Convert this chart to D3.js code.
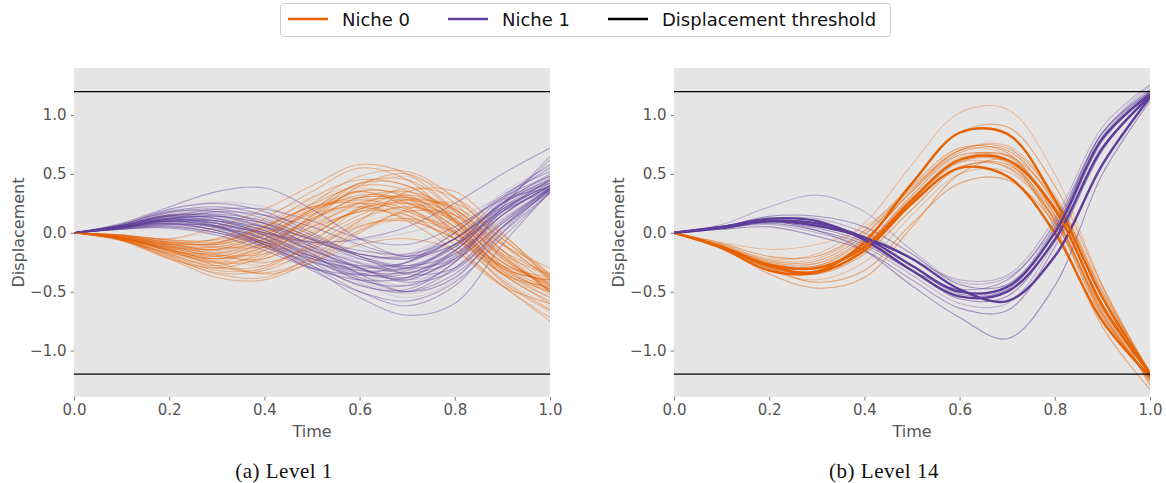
<!DOCTYPE html>
<html>
<head>
<meta charset="utf-8">
<script src="https://cdn.jsdelivr.net/npm/d3@7"></script>
<style>
  body { margin: 0; background: #fff; }
  svg { display: block; font-family: "DejaVu Sans", sans-serif; }
</style>
</head>
<body>
<script>
// time samples shared by every trajectory
const times = [0, 0.1, 0.2, 0.3, 0.4, 0.5, 0.6, 0.7, 0.8, 0.9, 1.0];

// Level 1 - niche 0 trajectories
const level1Niche0 = [
  [0,-0.04,-0.12,-0.18,-0.10,0.08,0.22,0.20,0.02,-0.28,-0.42],
  [0,-0.05,-0.15,-0.22,-0.15,0.05,0.25,0.30,0.10,-0.25,-0.45],
  [0,-0.03,-0.08,-0.10,0.00,0.18,0.32,0.28,0.05,-0.30,-0.40],
  [0,-0.06,-0.18,-0.30,-0.28,-0.10,0.12,0.22,0.10,-0.20,-0.50],
  [0,-0.04,-0.10,-0.05,0.10,0.25,0.30,0.15,-0.05,-0.35,-0.55],
  [0,-0.05,-0.14,-0.25,-0.35,-0.25,0.00,0.20,0.25,-0.05,-0.38],
  [0,-0.02,-0.06,-0.08,0.05,0.30,0.45,0.40,0.15,-0.20,-0.48],
  [0,-0.06,-0.20,-0.35,-0.38,-0.20,0.05,0.10,-0.05,-0.35,-0.60],
  [0,-0.03,-0.10,-0.12,-0.02,0.15,0.38,0.48,0.30,-0.10,-0.42],
  [0,-0.05,-0.13,-0.20,-0.22,-0.05,0.15,0.28,0.20,-0.15,-0.35],
  [0,-0.04,-0.09,-0.15,-0.05,0.20,0.35,0.22,-0.05,-0.40,-0.65],
  [0,-0.07,-0.22,-0.30,-0.20,0.02,0.18,0.15,-0.10,-0.45,-0.72],
  [0,-0.02,-0.05,0.02,0.15,0.30,0.38,0.30,0.10,-0.22,-0.45],
  [0,-0.05,-0.12,-0.18,-0.25,-0.12,0.10,0.35,0.35,0.00,-0.40],
  [0,-0.04,-0.15,-0.25,-0.18,0.10,0.40,0.50,0.25,-0.15,-0.50],
  [0,-0.03,-0.08,-0.12,-0.12,0.00,0.20,0.28,0.15,-0.18,-0.36],
  [0,-0.06,-0.16,-0.28,-0.32,-0.15,0.08,0.15,0.02,-0.30,-0.55],
  [0,-0.04,-0.10,-0.08,0.05,0.22,0.25,0.10,-0.15,-0.45,-0.60],
  [0,-0.05,-0.18,-0.28,-0.15,0.15,0.42,0.45,0.18,-0.22,-0.45],
  [0,-0.03,-0.07,-0.10,0.02,0.20,0.28,0.20,0.00,-0.32,-0.48],
  [0,-0.05,-0.12,-0.22,-0.28,-0.18,0.02,0.12,0.05,-0.25,-0.42],
  [0,-0.04,-0.14,-0.20,-0.08,0.12,0.30,0.35,0.20,-0.10,-0.38],
  [0,-0.06,-0.17,-0.22,-0.12,0.05,0.18,0.25,0.12,-0.28,-0.52],
  [0,-0.02,-0.08,-0.05,0.12,0.35,0.55,0.45,0.10,-0.30,-0.50],
  [0,-0.05,-0.12,-0.16,-0.08,0.10,0.26,0.30,0.15,-0.20,-0.44],
  [0,-0.04,-0.16,-0.26,-0.22,-0.02,0.20,0.25,0.05,-0.35,-0.58],
  [0,-0.03,-0.10,-0.14,-0.06,0.12,0.25,0.18,-0.02,-0.35,-0.46],
  [0,-0.05,-0.15,-0.18,-0.05,0.18,0.35,0.32,0.08,-0.30,-0.40],
  [0,-0.07,-0.20,-0.25,-0.10,0.12,0.28,0.25,0.00,-0.40,-0.68],
  [0,-0.04,-0.11,-0.14,-0.02,0.16,0.22,0.12,-0.05,-0.28,-0.38],
  [0,-0.06,-0.22,-0.38,-0.40,-0.25,-0.10,-0.05,-0.15,-0.45,-0.75],
  [0,-0.02,-0.05,0.05,0.20,0.40,0.58,0.50,0.20,-0.10,-0.30],
  [0,-0.05,-0.14,-0.24,-0.26,-0.12,0.10,0.22,0.12,-0.22,-0.46],
  [0,-0.03,-0.09,-0.09,0.04,0.24,0.40,0.36,0.12,-0.25,-0.43],
  [0,-0.06,-0.19,-0.32,-0.30,-0.08,0.20,0.32,0.18,-0.18,-0.50],
  [0,-0.04,-0.12,-0.14,-0.02,0.20,0.42,0.40,0.10,-0.32,-0.55],
  [0,-0.05,-0.16,-0.20,-0.10,0.08,0.20,0.18,0.00,-0.30,-0.47],
  [0,-0.02,-0.06,-0.06,0.06,0.22,0.30,0.30,0.22,-0.05,-0.36],
  [0,-0.05,-0.15,-0.28,-0.34,-0.22,0.02,0.18,0.15,-0.15,-0.44],
  [0,-0.04,-0.10,-0.12,0.00,0.25,0.48,0.52,0.30,-0.08,-0.40],
  [0,-0.06,-0.18,-0.24,-0.14,0.06,0.26,0.28,0.08,-0.38,-0.62],
  [0,-0.03,-0.11,-0.17,-0.09,0.10,0.30,0.26,0.02,-0.34,-0.50],
  [0,-0.05,-0.13,-0.19,-0.18,-0.02,0.22,0.38,0.30,-0.02,-0.35],
  [0,-0.04,-0.14,-0.22,-0.12,0.14,0.36,0.30,0.00,-0.42,-0.66],
  [0,-0.05,-0.12,-0.10,0.08,0.28,0.35,0.25,0.05,-0.25,-0.42],
  [0,-0.06,-0.21,-0.34,-0.32,-0.14,0.06,0.12,0.00,-0.28,-0.48]
];

// Level 1 - niche 1 trajectories
const level1Niche1 = [
  [0,0.05,0.10,0.08,0.00,-0.12,-0.25,-0.28,-0.10,0.20,0.38],
  [0,0.06,0.15,0.15,0.05,-0.10,-0.30,-0.40,-0.20,0.15,0.40],
  [0,0.04,0.08,0.05,-0.05,-0.20,-0.35,-0.35,-0.15,0.18,0.36],
  [0,0.08,0.22,0.35,0.38,0.20,-0.05,-0.20,-0.05,0.25,0.42],
  [0,0.05,0.12,0.10,0.02,-0.18,-0.42,-0.55,-0.40,0.05,0.35],
  [0,0.03,0.05,0.00,-0.10,-0.22,-0.30,-0.25,-0.05,0.22,0.40],
  [0,0.07,0.18,0.22,0.15,-0.02,-0.18,-0.22,-0.05,0.25,0.45],
  [0,0.05,0.10,0.05,-0.08,-0.28,-0.50,-0.62,-0.45,0.00,0.38],
  [0,0.04,0.06,0.03,-0.02,-0.08,-0.06,0.00,0.12,0.30,0.42],
  [0,0.06,0.14,0.12,0.02,-0.15,-0.28,-0.30,-0.12,0.28,0.55],
  [0,0.05,0.12,0.18,0.15,0.05,-0.10,-0.20,-0.10,0.18,0.38],
  [0,0.04,0.08,0.02,-0.12,-0.30,-0.40,-0.38,-0.15,0.20,0.40],
  [0,0.06,0.16,0.16,0.05,-0.15,-0.35,-0.45,-0.30,0.10,0.36],
  [0,0.03,0.04,-0.02,-0.15,-0.30,-0.35,-0.25,0.00,0.30,0.48],
  [0,0.07,0.20,0.25,0.18,0.00,-0.20,-0.35,-0.30,0.05,0.35],
  [0,0.05,0.10,0.10,0.05,-0.05,-0.15,-0.18,-0.05,0.25,0.62],
  [0,0.04,0.09,0.06,-0.04,-0.18,-0.30,-0.40,-0.30,0.05,0.40],
  [0,0.06,0.12,0.08,-0.05,-0.25,-0.45,-0.48,-0.25,0.15,0.40],
  [0,0.05,0.14,0.20,0.20,0.10,-0.05,-0.10,0.05,0.28,0.38],
  [0,0.04,0.06,0.00,-0.12,-0.25,-0.32,-0.30,-0.10,0.25,0.50],
  [0,0.06,0.16,0.18,0.10,-0.08,-0.25,-0.32,-0.20,0.12,0.36],
  [0,0.05,0.11,0.08,-0.02,-0.20,-0.38,-0.50,-0.35,0.00,0.34],
  [0,0.03,0.07,0.06,0.00,-0.08,-0.18,-0.22,-0.10,0.20,0.44],
  [0,0.06,0.15,0.12,-0.02,-0.22,-0.40,-0.45,-0.25,0.22,0.65],
  [0,0.05,0.10,0.04,-0.10,-0.25,-0.38,-0.40,-0.22,0.12,0.38],
  [0,0.04,0.12,0.14,0.08,-0.06,-0.20,-0.28,-0.18,0.15,0.40],
  [0,0.06,0.13,0.10,0.00,-0.15,-0.30,-0.38,-0.22,0.18,0.45],
  [0,0.05,0.08,0.02,-0.08,-0.20,-0.28,-0.25,-0.05,0.30,0.58],
  [0,0.04,0.10,0.12,0.05,-0.10,-0.22,-0.30,-0.15,0.20,0.40],
  [0,0.07,0.18,0.18,0.08,-0.12,-0.35,-0.50,-0.38,0.05,0.37],
  [0,0.05,0.10,0.05,-0.10,-0.30,-0.55,-0.70,-0.60,-0.10,0.35],
  [0,0.06,0.14,0.10,0.00,-0.08,-0.05,0.05,0.25,0.50,0.72],
  [0,0.05,0.13,0.12,0.00,-0.20,-0.40,-0.44,-0.22,0.16,0.40],
  [0,0.06,0.17,0.20,0.12,-0.05,-0.22,-0.28,-0.12,0.22,0.44],
  [0,0.04,0.07,0.02,-0.10,-0.28,-0.44,-0.50,-0.30,0.08,0.38],
  [0,0.05,0.12,0.14,0.08,-0.06,-0.18,-0.20,0.00,0.32,0.52],
  [0,0.07,0.19,0.20,0.06,-0.18,-0.40,-0.52,-0.38,0.02,0.36],
  [0,0.04,0.09,0.04,-0.08,-0.22,-0.32,-0.34,-0.18,0.18,0.42],
  [0,0.06,0.15,0.14,0.04,-0.12,-0.26,-0.34,-0.24,0.10,0.38],
  [0,0.05,0.10,0.06,-0.06,-0.24,-0.36,-0.32,-0.10,0.26,0.48],
  [0,0.03,0.05,0.00,-0.08,-0.16,-0.22,-0.18,0.02,0.34,0.56],
  [0,0.06,0.14,0.16,0.10,-0.04,-0.20,-0.30,-0.22,0.08,0.37],
  [0,0.05,0.11,0.10,0.02,-0.14,-0.30,-0.42,-0.32,0.04,0.36],
  [0,0.04,0.10,0.08,-0.02,-0.18,-0.34,-0.38,-0.16,0.24,0.46],
  [0,0.07,0.20,0.26,0.22,0.06,-0.12,-0.22,-0.12,0.20,0.40],
  [0,0.05,0.12,0.06,-0.10,-0.32,-0.50,-0.58,-0.42,-0.04,0.34]
];

// Level 14 - niche 0 trajectories (first three are the dense ones)
const level14Niche0 = [
  [0,-0.12,-0.27,-0.30,-0.12,0.28,0.62,0.62,0.20,-0.62,-1.20],
  [0,-0.12,-0.28,-0.33,-0.08,0.42,0.85,0.84,0.28,-0.55,-1.20],
  [0,-0.13,-0.32,-0.34,-0.15,0.25,0.55,0.48,0.00,-0.75,-1.22],
  [0,-0.10,-0.22,-0.18,0.08,0.58,1.02,1.05,0.50,-0.45,-1.25],
  [0,-0.12,-0.30,-0.42,-0.32,0.08,0.42,0.45,0.08,-0.65,-1.25],
  [0,-0.13,-0.35,-0.47,-0.38,0.05,0.50,0.62,0.22,-0.55,-1.30],
  [0,-0.08,-0.14,-0.10,0.05,0.38,0.70,0.66,0.18,-0.60,-1.20],
  [0,-0.12,-0.30,-0.34,-0.16,0.25,0.60,0.60,0.05,-0.80,-1.33],
  [0,-0.11,-0.25,-0.26,-0.05,0.35,0.68,0.70,0.25,-0.55,-1.18],
  [0,-0.12,-0.27,-0.28,-0.10,0.30,0.64,0.65,0.22,-0.60,-1.21],
  [0,-0.12,-0.29,-0.35,-0.18,0.20,0.55,0.58,0.15,-0.68,-1.24],
  [0,-0.11,-0.24,-0.24,-0.02,0.40,0.72,0.68,0.15,-0.70,-1.22],
  [0,-0.12,-0.28,-0.30,-0.10,0.30,0.60,0.55,0.10,-0.70,-1.25],
  [0,-0.09,-0.20,-0.20,0.02,0.42,0.85,0.90,0.40,-0.45,-1.20],
  [0,-0.12,-0.26,-0.28,-0.06,0.36,0.70,0.72,0.30,-0.50,-1.18],
  [0,-0.12,-0.32,-0.40,-0.25,0.15,0.50,0.52,0.12,-0.65,-1.28],
  [0,-0.11,-0.27,-0.29,-0.12,0.27,0.62,0.66,0.28,-0.52,-1.20],
  [0,-0.12,-0.30,-0.32,-0.10,0.32,0.66,0.62,0.10,-0.72,-1.23],
  [0,-0.10,-0.23,-0.22,0.00,0.38,0.70,0.74,0.32,-0.48,-1.19],
  [0,-0.12,-0.28,-0.30,-0.14,0.24,0.56,0.56,0.12,-0.68,-1.26]
];

// Level 14 - niche 1 trajectories (first three are the dense ones)
const level14Niche1 = [
  [0,0.05,0.10,0.08,-0.04,-0.28,-0.50,-0.46,0.00,0.80,1.18],
  [0,0.05,0.12,0.10,-0.06,-0.32,-0.54,-0.50,-0.06,0.72,1.16],
  [0,0.04,0.10,0.06,-0.04,-0.22,-0.48,-0.58,-0.20,0.58,1.15],
  [0,0.07,0.22,0.32,0.18,-0.15,-0.42,-0.38,0.05,0.85,1.25],
  [0,0.05,0.10,0.02,-0.15,-0.45,-0.72,-0.90,-0.45,0.50,1.12],
  [0,0.04,0.08,0.02,-0.10,-0.32,-0.48,-0.40,0.08,0.85,1.20],
  [0,0.05,0.12,0.12,0.00,-0.22,-0.40,-0.36,0.12,0.90,1.26],
  [0,0.03,0.05,-0.03,-0.15,-0.40,-0.64,-0.66,-0.12,0.70,1.18],
  [0,0.05,0.14,0.14,0.05,-0.18,-0.44,-0.44,0.04,0.85,1.22],
  [0,0.04,0.07,0.00,-0.12,-0.36,-0.60,-0.60,-0.08,0.72,1.17],
  [0,0.05,0.11,0.08,-0.04,-0.28,-0.52,-0.48,0.02,0.82,1.20],
  [0,0.04,0.09,0.04,-0.08,-0.32,-0.56,-0.54,-0.04,0.78,1.19]
];

const threshold = 1.2;
const xTicks = [0, 0.2, 0.4, 0.6, 0.8, 1.0];
const yTicks = [-1.0, -0.5, 0.0, 0.5, 1.0];
const legendLabels = ['Niche 0', 'Niche 1', 'Displacement threshold'];
const captions = ['(a) Level 1', '(b) Level 14'];

const orange = '#e66100';
const purple = '#5e3c99';

const W = 1166, H = 483;
const svg = d3.select('body').append('svg')
    .attr('width', W)
    .attr('height', H);

const panelH = { top: 68, bottom: 397 };
const panels = [
    { left: 74, right: 550, n0: level1Niche0, n1: level1Niche1, caption: captions[0], dense: 0 },
    { left: 674, right: 1150, n0: level14Niche0, n1: level14Niche1, caption: captions[1], dense: 3 }
];

panels.forEach((p, pi) => {
    const x = d3.scaleLinear().domain([0, 1]).range([p.left, p.right]);
    const y = d3.scaleLinear().domain([-1.395, 1.4]).range([panelH.bottom, panelH.top]);

    const g = svg.append('g');

    g.append('rect')
        .attr('x', p.left).attr('y', panelH.top)
        .attr('width', p.right - p.left)
        .attr('height', panelH.bottom - panelH.top)
        .attr('fill', '#e5e5e5');

    const clipId = 'clip' + pi;
    g.append('clipPath').attr('id', clipId).append('rect')
        .attr('x', p.left).attr('y', panelH.top)
        .attr('width', p.right - p.left)
        .attr('height', panelH.bottom - panelH.top);

    const line = d3.line()
        .x((d, i) => x(times[i]))
        .y(d => y(d))
        .curve(d3.curveCatmullRom.alpha(0.5));

    // interleave the two niches so neither sits fully on top
    const traces = [];
    const n = Math.max(p.n0.length, p.n1.length);
    for (let i = n - 1; i >= 0; i--) {
        if (p.n0[i]) traces.push({ vals: p.n0[i], color: orange, i });
        if (p.n1[i]) traces.push({ vals: p.n1[i], color: purple, i });
    }

    const lines = g.append('g').attr('clip-path', `url(#${clipId})`);
    lines.selectAll('path')
        .data(traces)
        .join('path')
        .attr('d', d => line(d.vals))
        .attr('fill', 'none')
        .attr('stroke', d => d.color)
        .attr('stroke-width', d => d.i < p.dense ? 2.4 : 1.1)
        .attr('stroke-opacity', d => {
            if (d.i < p.dense) return 1;
            if (pi === 1) return d.i % 3 === 0 ? 0.3 : 0.5;
            return d.i % 4 === 0 ? 0.15 : 0.4;
        });

    // displacement thresholds
    g.selectAll('line.thr')
        .data([threshold, -threshold])
        .join('line')
        .attr('class', 'thr')
        .attr('x1', p.left).attr('x2', p.right)
        .attr('y1', d => y(d)).attr('y2', d => y(d))
        .attr('stroke', '#000')
        .attr('stroke-width', 1.3);

    const xAxis = g.append('g')
        .attr('transform', `translate(0,${panelH.bottom})`)
        .call(d3.axisBottom(x).tickValues(xTicks).tickFormat(d3.format('.1f')).tickSize(3.5).tickPadding(4));
    const yAxis = g.append('g')
        .attr('transform', `translate(${p.left},0)`)
        .call(d3.axisLeft(y).tickValues(yTicks).tickFormat(d3.format('.1f')).tickSize(3.5).tickPadding(4));

    [xAxis, yAxis].forEach(a => {
        a.select('.domain').remove();
        a.selectAll('.tick line').attr('stroke', '#777');
        a.selectAll('.tick text')
            .attr('fill', '#555')
            .style('font-size', '15px')
            .style('font-family', '"DejaVu Sans", sans-serif');
    });

    g.append('text')
        .attr('x', (p.left + p.right) / 2)
        .attr('y', 437)
        .attr('text-anchor', 'middle')
        .attr('fill', '#555')
        .style('font-size', '16px')
        .text('Time');

    g.append('text')
        .attr('transform', `translate(${p.left - 50},${(panelH.top + panelH.bottom) / 2}) rotate(-90)`)
        .attr('text-anchor', 'middle')
        .attr('fill', '#555')
        .style('font-size', '16px')
        .text('Displacement');

    g.append('text')
        .attr('x', (p.left + p.right) / 2 - 28)
        .attr('y', 478)
        .attr('text-anchor', 'middle')
        .attr('fill', '#111')
        .style('font-family', '"Liberation Serif", serif')
        .style('font-size', '21px')
        .style('letter-spacing', '0.5px')
        .text(p.caption);
});

// legend
const legend = svg.append('g');
legend.append('rect')
    .attr('x', 280.5).attr('y', 3.5)
    .attr('width', 610).attr('height', 33)
    .attr('rx', 3)
    .attr('fill', '#fff')
    .attr('stroke', '#ccc');

const legendItems = [
    { label: legendLabels[0], color: orange, x: 288 },
    { label: legendLabels[1], color: purple, x: 448 },
    { label: legendLabels[2], color: '#000', x: 608 }
];
legendItems.forEach(it => {
    legend.append('line')
        .attr('x1', it.x).attr('x2', it.x + 40)
        .attr('y1', 19).attr('y2', 19)
        .attr('stroke', it.color)
        .attr('stroke-width', 2.5);
    legend.append('text')
        .attr('x', it.x + 54)
        .attr('y', 25.5)
        .attr('fill', '#111')
        .style('font-size', '18px')
        .text(it.label);
});
</script>
</body>
</html>
